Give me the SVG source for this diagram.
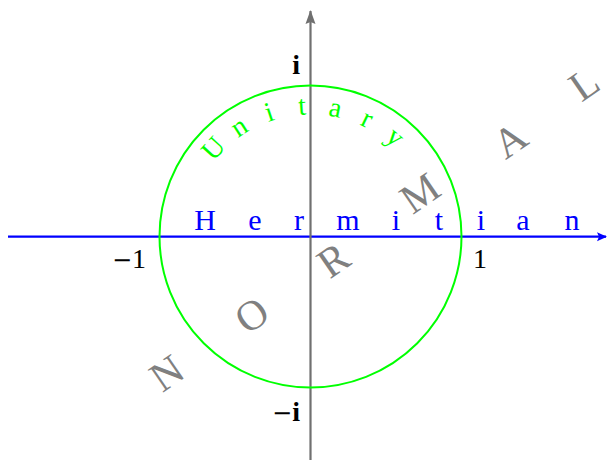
<svg xmlns="http://www.w3.org/2000/svg" width="607" height="460" viewBox="0 0 607 460">
<style>
.ser{font-family:"Liberation Serif","DejaVu Serif",serif}
.herm{fill:#0000ff;font-size:30px;text-anchor:middle}
.uni{fill:#00ff00;font-size:28px;text-anchor:middle}
.norm{fill:#808080;font-size:42px;text-anchor:middle}
.lab{fill:#000;font-size:28px}
.mn{font-family:"DejaVu Serif",serif;font-size:24px;font-weight:normal}
</style>
<defs>
<marker id="ab" markerWidth="10" markerHeight="10" refX="9" refY="5" orient="auto" markerUnits="userSpaceOnUse"><path d="M0,0.5 L10,5 L0,9.5 L2,5 Z" fill="#0000ff"/></marker>
<marker id="ag" markerWidth="14" markerHeight="12" refX="13" refY="6" orient="auto" markerUnits="userSpaceOnUse"><path d="M0,1 L14,6 L0,11 L2,6 Z" fill="#707070"/></marker>
</defs>
<g id="connectors">
<line x1="8" y1="236.7" x2="606" y2="236.7" stroke="#0000ff" stroke-width="2.2" marker-end="url(#ab)"/>
<line x1="310.5" y1="460" x2="310.5" y2="11" stroke="#707070" stroke-width="2.2" marker-end="url(#ag)"/>
</g>
<g id="circle">
<circle cx="310.5" cy="236.5" r="151" fill="none" stroke="#00ff00" stroke-width="2"/>
</g>
<g id="hermitian" class="ser herm">
<text x="205" y="230">H</text>
<text x="255" y="230">e</text>
<text x="299" y="230">r</text>
<text x="348" y="230">m</text>
<text x="396" y="230">i</text>
<text x="439" y="230">t</text>
<text x="481" y="230">i</text>
<text x="523" y="230">a</text>
<text x="572" y="230">n</text>
</g>
<g id="unitary" class="ser uni">
<text transform="translate(220.1,154.6) rotate(-47.8)">U</text>
<text transform="translate(243.9,134.3) rotate(-33.1)">n</text>
<text transform="translate(272,120.7) rotate(-18.4)">i</text>
<text transform="translate(302.6,114.8) rotate(-3.7)">t</text>
<text transform="translate(333.8,116.7) rotate(11)">a</text>
<text transform="translate(363.4,126.6) rotate(25.7)">r</text>
<text transform="translate(389.6,143.6) rotate(40.4)">y</text>
</g>
<g id="normal" class="ser norm">
<text transform="translate(166.7,373) rotate(-34.6)" y="14">N</text>
<text transform="translate(251.7,315) rotate(-34.6)" y="14">O</text>
<text transform="translate(333.3,260) rotate(-34.6)" y="14">R</text>
<text transform="translate(420,193) rotate(-34.6)" y="14">M</text>
<text transform="translate(510,140) rotate(-34.6)" y="14">A</text>
<text transform="translate(584,84) rotate(-34.6)" y="14">L</text>
</g>
<g id="labels" class="ser lab">
<text x="146" y="268" text-anchor="end"><tspan class="mn">−</tspan>1</text>
<text x="480" y="268" text-anchor="middle">1</text>
<text x="300" y="74" text-anchor="end" font-weight="bold">i</text>
<text x="300" y="421" text-anchor="end" font-weight="bold"><tspan class="mn">−</tspan>i</text>
</g>
</svg>
